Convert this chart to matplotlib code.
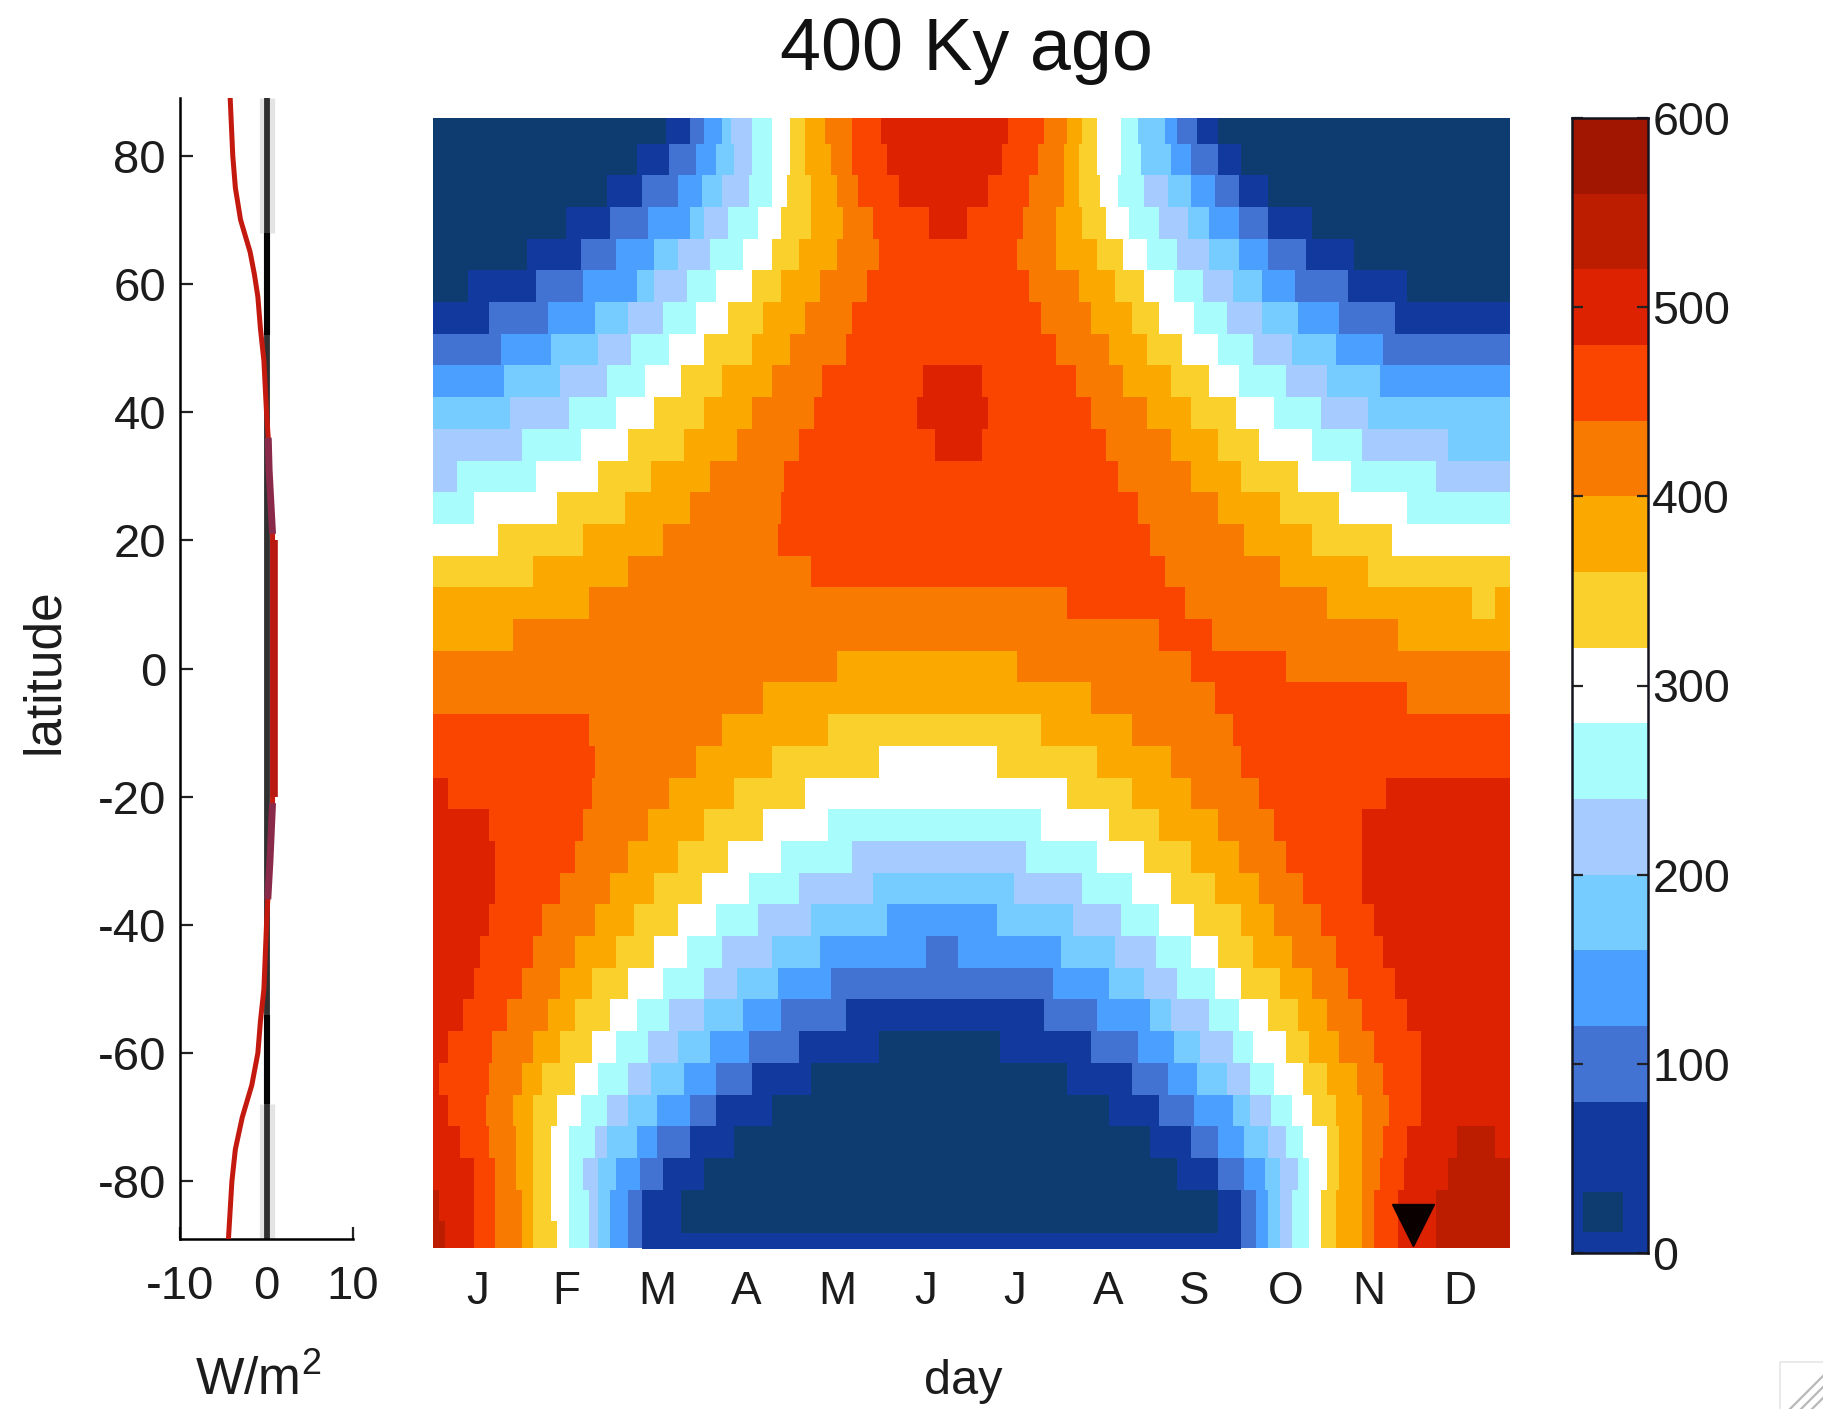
import numpy as np
import matplotlib
matplotlib.use("Agg")
import matplotlib.pyplot as plt
from matplotlib.colors import ListedColormap
from matplotlib.lines import Line2D
from matplotlib.patches import Rectangle

plt.rcParams['font.family'] = ['Liberation Sans', 'DejaVu Sans']
plt.rcParams['mathtext.default'] = 'regular'
plt.rcParams['axes.unicode_minus'] = False

W, H = 1823, 1409

months = ['J', 'F', 'M', 'A', 'M', 'J', 'J', 'A', 'S', 'O', 'N', 'D']
month_days = [15, 45, 76, 106, 137, 167, 197, 229, 258, 289, 317, 348]
lat_ticks = [80, 60, 40, 20, 0, -20, -40, -60, -80]
flux_ticks = [-10, 0, 10]
cbar_ticks = [0, 100, 200, 300, 400, 500, 600]

# one colour per 40 W/m2 band, 0 to 600
band_colors = ['#0e3b70', '#123a9e', '#4272d2', '#4a9fff', '#76ccff',
               '#a6ccff', '#a8fcfc', '#ffffff', '#fad02c', '#fba800',
               '#f87a00', '#f94500', '#dc2200', '#bc1c00', '#a01600']

# the colour bar shows its lowest band in the second colour
cbar_bands = [14, 13, 12, 11, 10, 9, 8, 7, 6, 5, 4, 3, 2, 1, 1]

# insolation bands along each latitude row, north to south:
# band_levels holds the bands in order of day, band_edges the day each change happens
band_levels = [
    [0, 1, 2, 3, 4, 5, 6, 7, 8, 9, 10, 11, 12, 11, 10, 9, 8, 7, 6, 4, 3, 2, 1, 0],
    [0, 1, 2, 3, 4, 5, 6, 7, 8, 9, 10, 11, 12, 11, 10, 9, 8, 7, 6, 4, 3, 2, 1, 0],
    [0, 1, 2, 3, 4, 5, 6, 7, 8, 9, 10, 11, 12, 11, 10, 9, 8, 7, 6, 5, 4, 3, 2, 1, 0],
    [0, 1, 2, 3, 4, 5, 6, 7, 8, 9, 10, 11, 12, 11, 10, 9, 8, 7, 6, 5, 4, 3, 2, 1, 0],
    [0, 1, 2, 3, 4, 5, 6, 7, 8, 9, 10, 11, 10, 9, 8, 7, 6, 5, 4, 3, 2, 1, 0],
    [0, 1, 2, 3, 4, 5, 6, 7, 8, 9, 10, 11, 10, 9, 8, 7, 6, 5, 4, 3, 2, 1, 0],
    [1, 2, 3, 4, 5, 6, 7, 8, 9, 10, 11, 10, 9, 8, 7, 6, 5, 4, 3, 2, 1],
    [2, 3, 4, 5, 6, 7, 8, 9, 10, 11, 10, 9, 8, 7, 6, 5, 4, 3, 2],
    [3, 4, 5, 6, 7, 8, 9, 10, 11, 12, 11, 10, 9, 8, 7, 6, 5, 4, 3],
    [4, 5, 6, 7, 8, 9, 10, 11, 12, 11, 10, 9, 8, 7, 6, 5, 4],
    [5, 6, 7, 8, 9, 10, 11, 12, 11, 10, 9, 8, 7, 6, 5, 4],
    [5, 6, 7, 8, 9, 10, 11, 10, 9, 8, 7, 6, 5],
    [6, 7, 8, 9, 10, 11, 10, 9, 8, 7, 6],
    [7, 8, 9, 10, 11, 10, 9, 8, 7],
    [8, 9, 10, 11, 10, 9, 8],
    [9, 10, 11, 10, 9, 8, 9],
    [9, 10, 11, 10, 9],
    [10, 9, 10, 11, 10],
    [10, 9, 10, 11, 10],
    [11, 10, 9, 8, 9, 10, 11],
    [11, 10, 9, 8, 7, 8, 9, 10, 11],
    [12, 11, 10, 9, 8, 7, 8, 9, 10, 11, 12],
    [12, 11, 10, 9, 8, 7, 6, 7, 8, 9, 10, 11, 12],
    [12, 11, 10, 9, 8, 7, 6, 5, 6, 7, 8, 9, 10, 11, 12],
    [12, 11, 10, 9, 8, 7, 6, 5, 4, 5, 6, 7, 8, 9, 10, 11, 12],
    [12, 11, 10, 9, 8, 7, 6, 5, 4, 3, 4, 5, 6, 7, 8, 9, 10, 11, 12],
    [12, 11, 10, 9, 8, 7, 6, 5, 4, 3, 2, 3, 4, 5, 6, 7, 8, 9, 10, 11, 12],
    [12, 11, 10, 9, 8, 7, 6, 5, 4, 3, 2, 3, 4, 5, 6, 7, 8, 9, 10, 11, 12],
    [12, 11, 10, 9, 8, 7, 6, 5, 4, 3, 2, 1, 2, 3, 4, 5, 6, 7, 8, 9, 10, 11, 12],
    [12, 11, 10, 9, 8, 7, 6, 5, 4, 3, 2, 1, 0, 1, 2, 3, 4, 5, 6, 7, 8, 9, 10, 11, 12],
    [12, 11, 10, 9, 8, 7, 6, 5, 4, 3, 2, 1, 0, 1, 2, 3, 4, 5, 6, 7, 8, 9, 10, 11, 12],
    [12, 11, 10, 9, 8, 7, 6, 5, 4, 3, 2, 1, 0, 1, 2, 3, 4, 5, 6, 7, 8, 9, 10, 11, 12],
    [12, 11, 10, 9, 8, 7, 6, 5, 4, 3, 2, 1, 0, 1, 2, 3, 4, 5, 6, 7, 8, 9, 10, 11, 12, 13, 12],
    [12, 11, 10, 9, 8, 7, 6, 5, 4, 3, 2, 1, 0, 1, 2, 3, 4, 5, 6, 7, 8, 9, 10, 11, 12, 13],
    [13, 12, 11, 10, 9, 8, 7, 6, 5, 4, 3, 2, 1, 0, 1, 2, 3, 4, 5, 6, 7, 8, 9, 10, 11, 12, 13],
    [13, 12, 11, 10, 9, 8, 7, 6, 5, 4, 3, 2, 1, 0, 1, 2, 3, 4, 5, 6, 7, 8, 9, 10, 11, 12, 13],
]

band_edges = [
    [79, 87, 92, 98, 101, 108, 115, 121, 126, 133, 142, 152, 195, 207, 215, 220, 225, 233, 239, 248, 252, 259, 266],
    [69, 80, 89, 96, 102, 108, 115, 121, 126, 135, 142, 154, 193, 205, 214, 219, 225, 233, 240, 250, 257, 266, 274],
    [59, 71, 83, 91, 98, 107, 115, 120, 128, 137, 144, 158, 188, 202, 214, 219, 226, 232, 241, 249, 257, 265, 273, 283],
    [45, 60, 73, 87, 92, 100, 110, 118, 128, 139, 149, 168, 181, 200, 211, 220, 228, 236, 246, 256, 263, 273, 283, 298],
    [32, 50, 62, 75, 83, 94, 105, 115, 124, 137, 151, 198, 211, 225, 234, 242, 252, 263, 273, 283, 296, 312],
    [12, 35, 51, 69, 75, 86, 96, 108, 118, 131, 147, 202, 219, 231, 241, 251, 261, 271, 281, 292, 310, 330],
    [19, 39, 55, 66, 78, 89, 100, 112, 126, 142, 206, 223, 237, 246, 258, 269, 281, 293, 307, 326],
    [23, 40, 56, 67, 80, 92, 108, 121, 140, 211, 229, 242, 254, 266, 278, 291, 306, 322],
    [24, 43, 59, 72, 84, 98, 115, 132, 166, 186, 218, 234, 250, 263, 273, 289, 303, 321],
    [26, 46, 62, 75, 92, 108, 129, 164, 188, 223, 242, 257, 272, 285, 301, 317],
    [30, 50, 66, 85, 103, 124, 170, 186, 228, 250, 266, 280, 298, 315, 344],
    [8, 35, 56, 74, 94, 119, 232, 257, 274, 293, 311, 340],
    [14, 42, 65, 87, 118, 239, 266, 287, 307, 330],
    [22, 51, 78, 117, 243, 275, 298, 325],
    [34, 66, 128, 248, 287, 317],
    [53, 215, 255, 303, 352, 360],
    [27, 246, 264, 327],
    [137, 198, 257, 289],
    [112, 223, 265, 330],
    [53, 98, 134, 206, 237, 271],
    [55, 89, 115, 151, 191, 225, 250, 274],
    [5, 54, 80, 102, 126, 215, 237, 257, 280, 323],
    [19, 51, 73, 92, 112, 134, 206, 229, 246, 266, 285, 315],
    [21, 48, 66, 83, 100, 118, 142, 201, 225, 241, 257, 273, 289, 315],
    [21, 43, 60, 75, 91, 107, 124, 149, 197, 220, 237, 250, 265, 280, 295, 315],
    [19, 37, 55, 68, 83, 96, 110, 128, 154, 191, 217, 233, 246, 258, 274, 285, 301, 319],
    [16, 34, 48, 62, 75, 86, 98, 115, 131, 167, 178, 213, 231, 245, 257, 266, 278, 291, 306, 322],
    [14, 30, 43, 54, 66, 78, 92, 103, 117, 135, 210, 229, 241, 252, 265, 274, 287, 298, 310, 326],
    [10, 25, 39, 48, 60, 69, 80, 92, 105, 118, 140, 207, 225, 243, 250, 263, 273, 283, 293, 303, 315, 330],
    [5, 20, 34, 43, 54, 62, 73, 83, 94, 107, 124, 151, 192, 223, 239, 251, 260, 271, 278, 289, 297, 307, 319, 335],
    [2, 19, 30, 37, 48, 56, 66, 74, 85, 96, 108, 128, 215, 237, 249, 259, 269, 277, 285, 295, 303, 313, 322, 335],
    [5, 18, 27, 34, 42, 50, 59, 66, 76, 87, 96, 115, 229, 246, 258, 271, 277, 284, 291, 298, 306, 315, 324, 335],
    [9, 19, 28, 34, 40, 46, 55, 59, 69, 76, 87, 102, 243, 257, 266, 275, 283, 289, 295, 303, 307, 315, 322, 330, 347, 360],
    [14, 21, 28, 34, 40, 46, 51, 56, 62, 70, 78, 92, 252, 266, 275, 282, 287, 293, 297, 303, 307, 315, 321, 329, 344],
    [2, 14, 21, 30, 34, 40, 46, 53, 56, 60, 66, 71, 84, 266, 274, 279, 283, 287, 291, 297, 301, 306, 315, 319, 327, 340],
    [4, 14, 21, 30, 34, 42, 46, 53, 56, 60, 66, 71, 84, 266, 274, 279, 283, 287, 291, 297, 301, 306, 315, 319, 327, 340],
]

# thin strip of the second band along the bottom of the main panel
strip_days = [71, 274]
strip_lats = [-90, -86.9]

# left panel, change in annual mean insolation against latitude
diff_lat = [89, 80, 75, 70, 65, 61.5, 58, 53, 48, 40, 36, 31, 21, 20, 0, -20, -21, -30, -36, -40, -50, -55, -60, -65, -70, -75, -80, -89]
diff_flux = [-4.2, -3.9, -3.6, -3.0, -1.9, -1.4, -1.0, -0.7, -0.3, 0.0, 0.2, 0.3, 0.7, 0.7, 0.7, 0.7, 0.7, 0.4, 0.15, 0.0, -0.3, -0.7, -1.0, -1.7, -2.8, -3.6, -4.0, -4.4]

# zero line: grey ends, black shoulders
zero_grey_lats = [[89, 68], [-68, -89]]
zero_black_lats = [[68, 52], [-54, -68]]

# black triangle on the main panel
marker_day = 332
marker_lat = -85.6


def px_axes(fig, left, top, right, bottom):
    # axes box given in picture pixels, measured from the top left
    return fig.add_axes([left / W, 1 - bottom / H, (right - left) / W, (bottom - top) / H])


fig = plt.figure(figsize=(W / 100, H / 100), dpi=100)
text_color = '#1c1c1c'
cmap = ListedColormap(band_colors)

# main panel
grid = []
for levels, edges in zip(band_levels, band_edges):
    widths = np.diff([0] + edges + [365])
    grid.append(np.repeat(levels, widths))
grid = np.array(grid) * 40 + 20

ax = px_axes(fig, 433, 117.5, 1510, 1247.5)
ax.imshow(grid, cmap=cmap, vmin=0, vmax=600, aspect='auto', interpolation='nearest',
          extent=(0, 365, -90, 90))
ax.fill_between(strip_days, strip_lats[0], strip_lats[1], color=band_colors[1], lw=0)
ax.set_xlim(0, 365)
ax.set_ylim(-89.2, 89.05)
ax.plot([marker_day], [marker_lat], marker='v', color='#0a0000', markersize=30, clip_on=False)
ax.set_xticks(month_days)
ax.set_xticklabels(months, fontsize=33, color=text_color)
ax.set_yticks([])
ax.tick_params(axis='x', length=0, pad=16)
for s in ax.spines.values():
    s.set_visible(False)
fig.text(963 / W, 1 - 1381 / H, 'day', fontsize=35, color=text_color, ha='center', va='center')
fig.text(966 / W, 1 - 70 / H, '400 Ky ago', fontsize=53, color='#111111', ha='center', va='baseline')

# left panel
ax2 = px_axes(fig, 180, 98, 353, 1239)
for seg in zero_grey_lats:
    ax2.plot([0, 0], seg, color='#e4e4e4', lw=11, solid_capstyle='butt', zorder=1)
ax2.axvline(0, color='#303030', lw=4.2, zorder=2)
for seg in zero_black_lats:
    ax2.plot([0, 0], seg, color='#050505', lw=4.4, solid_capstyle='butt', zorder=2)
lat = np.array(diff_lat)
flux = np.array(diff_flux)
ax2.plot(flux, lat, color='#c4190f', lw=3.6, zorder=3)
for sign in [1, -1]:
    mauve = (sign * lat >= 21) & (sign * lat <= 36)
    ax2.plot(flux[mauve], lat[mauve], color='#8a2a4a', lw=5, solid_capstyle='butt', zorder=3)
mid = np.abs(lat) <= 20
ax2.plot(flux[mid] + 0.2, lat[mid], color='#b81810', lw=5.5, solid_capstyle='butt', zorder=3)
ax2.set_xlim(-10, 10)
ax2.set_ylim(-89, 89)
ax2.set_xticks(flux_ticks)
ax2.set_yticks(lat_ticks)
ax2.tick_params(axis='both', direction='in', length=9, width=1.6, labelsize=34,
                colors=text_color, color='#222222')
ax2.tick_params(axis='y', pad=10)
ax2.tick_params(axis='x', pad=19)
ax2.patch.set_alpha(0)
ax2.spines['top'].set_visible(False)
ax2.spines['right'].set_visible(False)
ax2.spines['left'].set_linewidth(1.8)
ax2.spines['bottom'].set_linewidth(1.8)
fig.text(258 / W, 1 - 1381 / H, 'W/m$^{2}$', fontsize=37, color=text_color, ha='center', va='center')
fig.text(44 / W, 1 - 671 / H, 'latitude', fontsize=37, color=text_color, rotation=90, ha='center', va='center')

# colour bar
cax = px_axes(fig, 1572, 118, 1648, 1253)
cax.imshow(np.array(cbar_bands)[:, None] * 40 + 20, cmap=cmap, vmin=0, vmax=600, aspect='auto',
           interpolation='nearest', extent=(0, 1, 0, 600))
cax.add_patch(Rectangle((0.15, 11), 0.52, 21, color=band_colors[0], lw=0))
cax.set_xticks([])
cax.set_yticks(cbar_ticks)
cax.yaxis.tick_right()
cax.tick_params(axis='y', direction='in', length=8, width=1.6, left=True, right=True, pad=3,
                labelsize=33.5, labelcolor=text_color, color='#222222')
for s in cax.spines.values():
    s.set_linewidth(1.8)
    s.set_color('#14141e')

# window resize grip in the corner of the screenshot
for i in range(3):
    fig.add_artist(Line2D([(1790 + 11 * i) / W, 1823 / W], [1 - 1409 / H, 1 - (1376 + 11 * i) / H],
                          color='#b8b8b8', lw=1.6))
fig.add_artist(Line2D([1780 / W, 1780 / W, 1823 / W], [1 - 1409 / H, 1 - 1362 / H, 1 - 1362 / H],
                      color='#e6e6e6', lw=1.2))

fig.savefig('out.png', dpi=100)
